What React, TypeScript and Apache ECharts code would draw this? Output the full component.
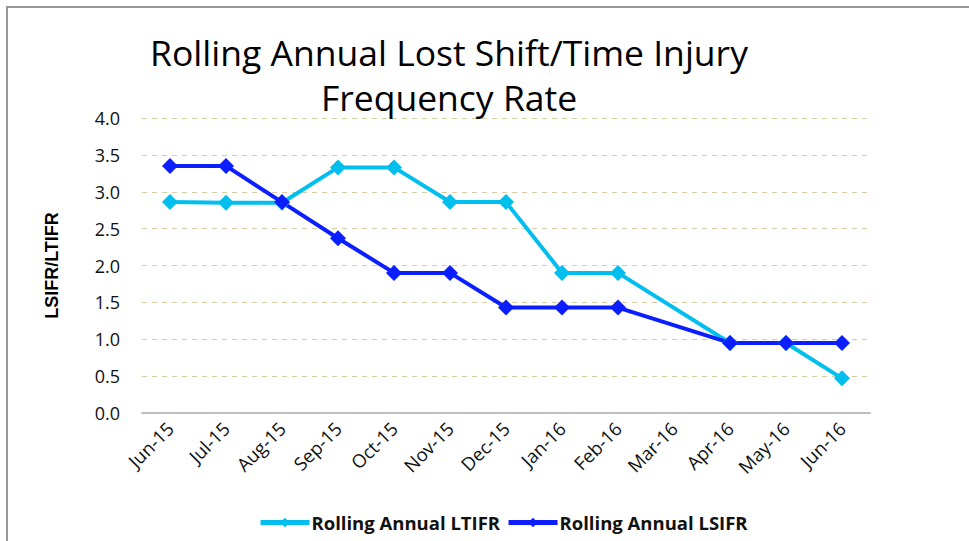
import React, { useEffect, useRef } from "react";
import * as echarts from "echarts";

const categories = ["Jun-15", "Jul-15", "Aug-15", "Sep-15", "Oct-15", "Nov-15", "Dec-15", "Jan-16", "Feb-16", "Mar-16", "Apr-16", "May-16", "Jun-16"];
const ltifr = [2.86, 2.85, 2.85, 3.33, 3.33, 2.86, 2.86, 1.9, 1.9, null, 0.95, 0.95, 0.47];
const lsifr = [3.35, 3.35, 2.86, 2.37, 1.9, 1.9, 1.43, 1.43, 1.43, null, 0.95, 0.95, 0.95];
const yTicks = [0, 0.5, 1, 1.5, 2, 2.5, 3, 3.5, 4];

const FONT = "'Open Sans', sans-serif";

export default function App() {
  const ref = useRef<HTMLDivElement>(null);
  useEffect(() => {
    if (!ref.current) return;
    const chart = echarts.init(ref.current, null, { renderer: "svg" });
    chart.setOption({
      animation: false,
      backgroundColor: "#fff",
      title: {
        text: "Rolling Annual Lost Shift/Time Injury\nFrequency Rate",
        left: 444,
        top: 24,
        textAlign: "center",
        textStyle: { fontFamily: FONT, fontSize: 35.5, fontWeight: "normal", color: "#000", lineHeight: 45 },
      },
      graphic: [
        { type: "line", shape: { x1: 6, y1: 7, x2: 969, y2: 7 }, style: { stroke: "#999", lineWidth: 2 } },
        { type: "line", shape: { x1: 7, y1: 7, x2: 7, y2: 541 }, style: { stroke: "#999", lineWidth: 2 } },
      ],
      legend: {
        top: 508,
        left: 253,
        itemGap: 6,
        itemWidth: 49,
        itemHeight: 12,
        itemStyle: { borderWidth: 0 },
        lineStyle: { width: 5 },
        textStyle: { fontFamily: FONT, fontSize: 18.5, fontWeight: "bold", color: "#111", padding: [0, 0, 0, -3] },
        data: ["Rolling Annual LTIFR", "Rolling Annual LSIFR"],
      },
      grid: { left: 142, right: 99, top: 118, bottom: 128 },
      xAxis: {
        type: "category",
        data: categories,
        boundaryGap: true,
        axisLine: { lineStyle: { color: "#BFBFBF", width: 2 } },
        axisTick: { show: false },
        axisLabel: { rotate: 45, fontFamily: FONT, fontSize: 18.5, color: "#111", margin: 12, interval: 0 },
      },
      yAxis: {
        type: "value",
        min: 0,
        max: 4,
        interval: 0.5,
        name: "LSIFR/LTIFR",
        nameLocation: "middle",
        nameGap: 81,
        nameTextStyle: { fontFamily: "'Liberation Sans', Arial, sans-serif", fontSize: 18, fontWeight: "bold", color: "#000" },
        axisLine: { show: false },
        axisTick: { show: false },
        axisLabel: {
          fontFamily: FONT,
          fontSize: 18,
          color: "#111",
          margin: 22,
          formatter: (v: number) => (yTicks.includes(v) ? v.toFixed(1) : ""),
        },
        splitLine: { lineStyle: { color: "#D6CCA6", type: [5, 5], width: 1 } },
      },
      series: [
        {
          name: "Rolling Annual LTIFR",
          type: "line",
          data: ltifr,
          connectNulls: true,
          symbol: "diamond",
          symbolSize: 16,
          color: "#00BFEE",
          lineStyle: { width: 4, color: "#00BFEE" },
          itemStyle: { color: "#00BFEE" },
        },
        {
          name: "Rolling Annual LSIFR",
          type: "line",
          data: lsifr,
          connectNulls: true,
          symbol: "diamond",
          symbolSize: 16,
          color: "#0A1EFF",
          lineStyle: { width: 4, color: "#0A1EFF" },
          itemStyle: { color: "#0A1EFF" },
        },
      ],
    });
    return () => chart.dispose();
  }, []);
  return <div ref={ref} style={{ position: "fixed", left: 0, top: 0, width: 969, height: 541 }} />;
}
